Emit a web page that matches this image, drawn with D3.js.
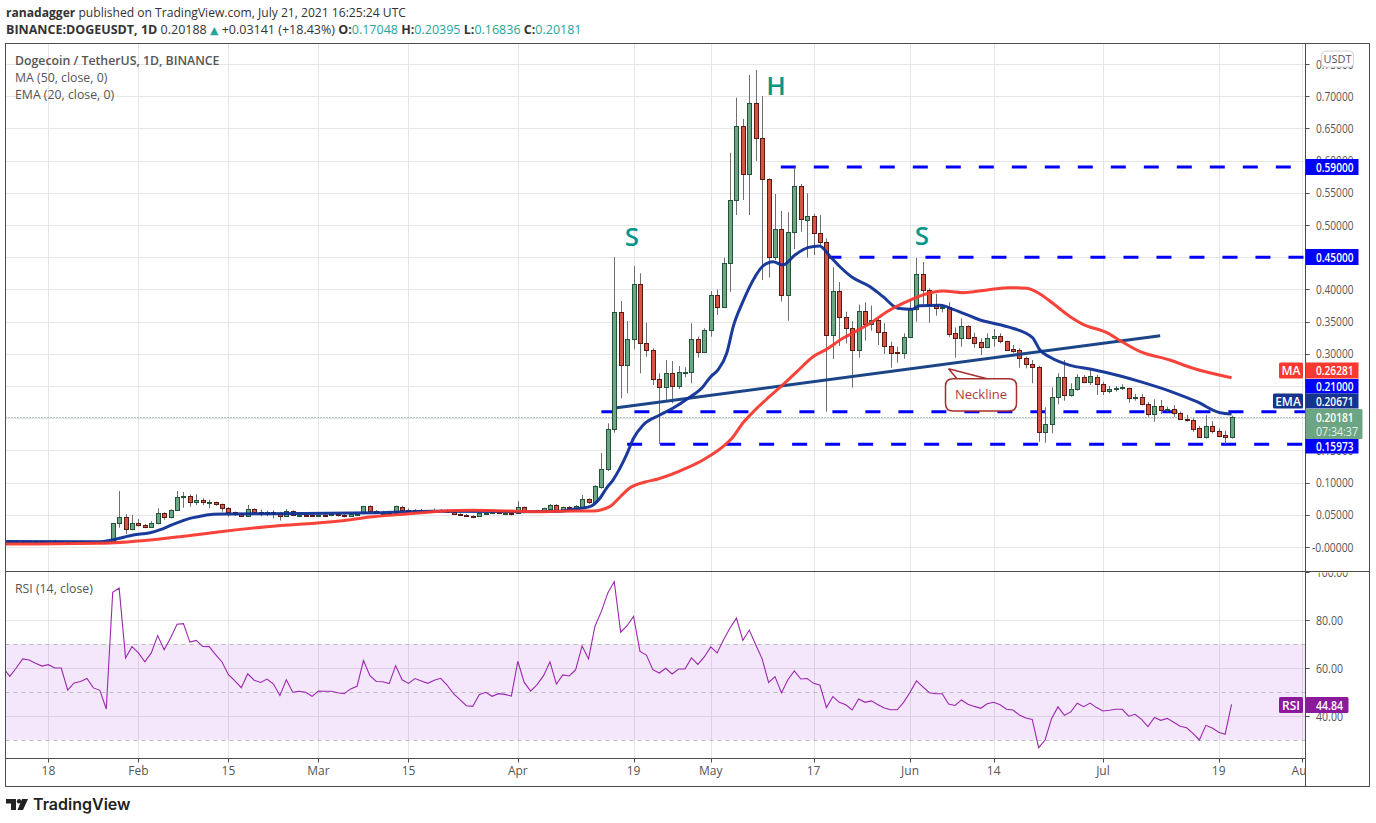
<!DOCTYPE html>
<html>
<head>
<meta charset="utf-8">
<script src="https://cdn.jsdelivr.net/npm/d3@7"></script>
<style>
  html, body { margin: 0; background: #fff; }
  text { font-family: "Open Sans", sans-serif; }
</style>
</head>
<body>
<div id="chart"></div>
<script>
// daily candles, index 0 is 12 Jan 2021, last one is 21 Jul 2021
const opens = [
  .0090,.0085,.0088,.0090,.0086,.0088,.0087,.0090,.0088,.0085,.0084,.0087,.0086,.0085,.0083,.0080,.0073,.0368,.0461,.0275,
  .0368,.0337,.0306,.0368,.0523,.0461,.0570,.0772,.0787,.0693,.0724,.0693,.0693,.0662,.0610,.0540,.0520,.0486,.0585,.0550,.0535,.0550,.0535,.0480,.0560,.0495,.0500,.0500,
  .0480,.0500,.0490,.0505,.0500,.0487,.0505,.0523,.0637,.0564,.0520,.0535,.0535,.0616,.0580,.0555,.0580,.0555,.0550,.0555,.0580,.0550,.0520,.0500,.0485,.0480,.0525,.0535,.0540,.0530,.0535,
  .0533,.0616,.0565,.0540,.0555,.0590,.0647,.0580,.0622,.0605,.0620,.0741,.0703,.0936,.1206,.1828,.3644,.2821,.3225,.4079,.3163,.3054,.2604,.2490,.2697,.2505,.2713,.2713,.3225,.3033,
  .3365,.3908,.3731,.4405,.5383,.6532,.5797,.6890,.6356,.5709,.4498,.4933,.3908,.4887,.5601,.5073,.5135,.4871,.4741,.3287,.3970,.3567,.3405,.3054,.3660,.3458,.3520,.3334,.3116,.3023,.3007,
  .3256,.3691,.4234,.3995,.3753,.3706,.3722,.3318,.3250,.3427,.3256,.3178,.3110,.3241,.3272,.3194,.3070,.3054,.2930,.2846,.2800,.1781,.1905,.2334,.2635,.2365,.2449,.2635,.2567,.2635,
  .2536,.2427,.2449,.2465,.2465,.2309,.2334,.2225,.2060,.2195,.2133,.2149,.2076,.1993,.1967,.1843,.1713,.1873,.1806,.1734,.17048
];
const closes = [
  .0085,.0088,.0090,.0086,.0088,.0087,.0090,.0088,.0085,.0084,.0087,.0086,.0085,.0083,.0080,.0073,.0368,.0461,.0275,.0368,
  .0337,.0306,.0368,.0523,.0461,.0570,.0772,.0787,.0693,.0724,.0693,.0700,.0662,.0610,.0540,.0520,.0486,.0585,.0550,.0535,.0550,.0535,.0480,.0560,.0495,.0500,.0495,.0485,
  .0500,.0490,.0505,.0490,.0487,.0505,.0510,.0637,.0564,.0530,.0535,.0520,.0637,.0580,.0555,.0580,.0555,.0562,.0580,.0575,.0550,.0520,.0500,.0480,.0480,.0525,.0535,.0540,.0530,.0535,.0530,
  .0616,.0565,.0540,.0565,.0600,.0647,.0580,.0616,.0605,.0637,.0741,.0700,.0943,.1206,.1828,.3644,.2821,.3225,.4079,.3163,.3054,.2604,.2490,.2697,.2505,.2713,.2725,.3225,.3033,.3365,
  .3908,.3731,.4405,.5383,.6532,.5797,.6890,.6356,.5709,.4498,.4933,.3908,.4887,.5601,.5088,.5135,.4871,.4741,.3287,.3970,.3567,.3405,.3054,.3660,.3458,.3520,.3334,.3116,.3017,.3007,.3256,
  .3691,.4234,.3995,.3753,.3706,.3722,.3312,.3250,.3427,.3250,.3172,.3110,.3241,.3272,.3194,.3064,.3048,.2930,.2846,.2800,.1781,.1905,.2334,.2635,.2365,.2449,.2635,.2567,.2650,.2536,
  .2427,.2449,.2465,.2480,.2309,.2334,.2227,.2060,.2195,.2133,.2149,.2076,.1993,.1977,.1837,.1713,.1873,.1806,.1728,.1703,.20181
];
const highs = [
  .0100,.0095,.0098,.0105,.0095,.0096,.0098,.0110,.0096,.0092,.0092,.0094,.0093,.0092,.0090,.0088,.0372,.0870,.0510,.0500,
  .0435,.0357,.0400,.0600,.0540,.0585,.0870,.0854,.0818,.0818,.0756,.0735,.0705,.0675,.0620,.0550,.0530,.0652,.0600,.0580,.0565,.0570,.0545,.0590,.0570,.0520,.0515,.0510,
  .0520,.0515,.0520,.0515,.0510,.0515,.0520,.0640,.0645,.0575,.0560,.0560,.0642,.0640,.0600,.0590,.0590,.0575,.0595,.0590,.0585,.0560,.0530,.0510,.0495,.0530,.0550,.0555,.0555,.0550,.0545,
  .0714,.0630,.0575,.0580,.0610,.0668,.0668,.0625,.0637,.0652,.0807,.0755,.0960,.1460,.1920,.4500,.3820,.3510,.4363,.4250,.3483,.3085,.2697,.2904,.2888,.2810,.2790,.3474,.3266,.3396,
  .3975,.4000,.4492,.6122,.6977,.6646,.7329,.7407,.7003,.5725,.5481,.5217,.5197,.5896,.5637,.5492,.5171,.5155,.4793,.4343,.4115,.3654,.3509,.3763,.3800,.3750,.3560,.3474,.3188,.3110,.3318,
  .3846,.4488,.4425,.4017,.3929,.3773,.3800,.3411,.3551,.3443,.3328,.3241,.3318,.3385,.3318,.3204,.3137,.3085,.2955,.2904,.2816,.2169,.2480,.2697,.2904,.2542,.2681,.2671,.2748,.2671,
  .2567,.2500,.2500,.2526,.2474,.2376,.2376,.2252,.2293,.2283,.2179,.2205,.2102,.2050,.1998,.1879,.2045,.1954,.1843,.1806,.20395
];
const lows = [
  .0078,.0078,.0080,.0080,.0078,.0079,.0080,.0082,.0080,.0078,.0076,.0080,.0078,.0076,.0074,.0068,.0070,.0300,.0200,.0260,
  .0315,.0290,.0295,.0350,.0424,.0445,.0560,.0610,.0626,.0652,.0652,.0600,.0641,.0548,.0470,.0480,.0470,.0480,.0535,.0480,.0480,.0445,.0410,.0470,.0480,.0470,.0480,.0470,
  .0470,.0470,.0480,.0470,.0460,.0480,.0490,.0510,.0555,.0520,.0515,.0505,.0525,.0565,.0540,.0540,.0545,.0545,.0540,.0545,.0540,.0510,.0490,.0470,.0455,.0475,.0515,.0520,.0515,.0520,.0490,
  .0525,.0555,.0530,.0530,.0545,.0580,.0570,.0570,.0595,.0600,.0610,.0668,.0690,.0905,.1180,.1775,.2310,.2387,.3070,.2697,.2955,.2516,.1600,.2272,.2231,.2453,.2635,.2542,.2940,.3017,
  .3266,.3602,.3731,.3964,.5155,.5388,.5155,.5994,.4146,.4182,.4456,.3809,.3514,.4627,.4896,.4492,.4534,.4674,.2101,.2919,.3121,.3163,.2474,.2940,.3204,.3359,.3137,.2997,.2784,.2862,.2924,
  .3500,.3498,.3773,.3483,.3592,.3644,.3266,.2940,.3110,.3225,.3095,.2981,.3101,.3110,.3163,.3048,.3017,.2784,.2775,.2542,.1635,.1620,.1765,.2216,.2272,.2334,.2427,.2542,.2516,.2360,
  .2360,.2386,.2412,.2438,.2241,.2272,.2200,.2023,.1946,.2065,.2102,.2023,.1972,.1946,.1790,.1697,.1682,.1765,.1703,.1600,.16836
];

// moving averages, as [day index] + [price]
const emaDays = [-1,14,15.9,19.2,21.8,23.4,24.9,26.5,28,29.6,31.6,33.7,45,57,66,76.2,79.3,85.6,87.6,90.2,91.8,92.8,93.8,95.9,97,98.5,101.1,103.1,105.5,107.8,109,110.1,111.5,112.5,114,115.9,117,118.7,120.2,122.1,124.1,125.9,127.6,129.1,131,133.8,135.8,138.1,140.3,141.5,144.7,146.7,150.9,155.1,159,160.2,161.8,164.9,168,172.7,175.8,180.9,184.6,188.2,190];
const emaValues = [.0085,.0082,.0109,.0186,.0222,.0269,.0331,.0393,.0445,.0477,.0508,.0512,.0520,.0530,.0555,.0553,.0548,.0555,.0585,.0626,.0761,.0916,.1040,.1429,.1688,.1894,.2050,.2154,.2309,.2490,.2645,.2748,.3012,.3421,.3809,.4197,.4352,.4430,.4379,.4534,.4648,.4674,.4508,.4352,.4188,.4042,.3887,.3706,.3691,.3747,.3753,.3691,.3525,.3421,.3256,.3059,.2946,.2821,.2764,.2655,.2567,.2402,.2256,.2085,.20671];
const maDays = [-1,14,21.8,26.5,32.7,40,51.3,56.5,61.7,66.9,72,82.4,87.6,90.7,93.3,94.9,96.4,98.8,100.8,105.3,107.8,110.9,112.3,114,115.9,117.9,120.2,122.4,124.9,127.1,129.6,131,133.8,136.4,140,143.1,145.1,148.2,152,155.5,158.2,160.2,162.2,164.9,166.9,170.6,172.7,175.8,180.4,184,190];
const maValues = [.0045,.0057,.0109,.0160,.0238,.0315,.0404,.0470,.0512,.0554,.0570,.0548,.0559,.0559,.0626,.0776,.0916,.1009,.1056,.1227,.1351,.1557,.1688,.1925,.2127,.2314,.2516,.2722,.2955,.3075,.3245,.3318,.3473,.3654,.3835,.3949,.3975,.3949,.3991,.4027,.4017,.3929,.3784,.3576,.3458,.3328,.3203,.3033,.2904,.2775,.26281];

// RSI, starts one day before the first candle
const rsiValues = [
  60,56.5,60,63.8,63.3,62,60.8,61.4,60,60,50.8,53.8,54.4,55.6,51.7,50.7,42.9,91.5,93.3,64.2,68.9,66.3,62.6,66.3,73.5,67.6,72.5,78.2,78.5,70.8,71.5,69,68.9,65.6,62.5,57.2,54.6,51.8,57.6,54.9,54,55.4,53.3,48.5,55.1,49.9,50.3,49.9,48.2,
  50.4,50.3,50.3,49.7,49.3,51.3,52.4,63.1,56.8,54.4,54.3,53.5,61,55.1,53.6,55.6,54.6,53.6,54.9,55.7,52.9,49.3,46.8,44.3,44,48.9,49.9,48.2,49.3,49,48.3,
  62.8,54,50.4,53.1,56.8,62.6,53.3,57.1,56.7,59.3,69.2,63.8,77.4,83.6,91.3,96,74.9,77.6,81.5,66.9,65.4,59.3,57.9,59.9,57.5,59.6,59.6,64.2,61.5,64.6,
  68.8,66.3,71.8,76.7,80.8,71.5,75.8,69.7,63.8,54,56.4,49.6,55.1,58.8,55.4,55.6,53.6,52.8,43.5,48.1,45.7,44.7,42.5,47.1,45.7,46.3,44.7,43.3,42.6,42.6,45.7,
  49.9,54.6,52.1,49.7,49.3,49.3,45,44.4,46.7,44.9,44,43.2,45.1,45.7,44.7,42.8,42.5,40.4,39.2,38.6,26.8,30,38.9,43.8,40.3,41.7,45.3,43.9,45.4,43.5,
  42.1,42.4,42.8,42.8,39.9,40.7,38.6,35.6,39.4,38.2,39,37.4,35.7,35.1,32.8,30,36.1,35,33.2,32.4,44.84
];

// axis ticks
const priceTicks = [0, .05, .10, .15, .20, .25, .30, .35, .40, .45, .50, .55, .60, .65, .70, .75];
const rsiTicks = [40, 60, 80, 100];
const rsiLevels = [70, 50, 30];
const timeTickDays = [6, 20, 34, 48, 62, 79, 97, 109, 125, 140, 153, 170, 188, 201];
const timeTickLabels = ['18', 'Feb', '15', 'Mar', '15', 'Apr', '19', 'May', '17', 'Jun', '14', 'Jul', '19', 'Aug'];

// drawn levels and the neckline
const levelPrices = [.59, .45, .21, .15973];
const levelStartDays = [119.9, 127, 92, 96];
const necklineDays = [94.4, 178.9];
const necklinePrices = [.2163, .3281];

const C_UP = '#6ba583', C_UP_B = '#225437', C_DN = '#d75442', C_DN_B = '#5b1a13', C_WICK = '#6e6e70';
const C_GRID = '#e6e6e6', C_FRAME = '#4d4d4d', C_TEXT = '#555';
const C_MA = '#f8392f', C_EMA = '#0f3096', C_LEVEL = '#0000ff', C_RSI = '#9c27b0', C_RSI_TAG = '#8a1a9a';

const svg = d3.select('#chart').append('svg')
  .attr('width', 1376).attr('height', 823).style('display', 'block');

const LEFT = 5.5, RIGHT = 1305.5, FAR = 1369.5, TOP = 43.5, SEP = 571.5, RSI_BOTTOM = 758.5, BOTTOM = 786.5;

const x = d3.scaleLinear().domain([6, 188]).range([48.4, 1218.7]);
const y = d3.scaleLinear().domain([0, .7]).range([547, 96.2]);
const yRsi = d3.scaleLinear().domain([60, 40]).range([668, 716]);
const px = v => Math.round(v) + .5;

const defs = svg.append('defs');
defs.append('clipPath').attr('id', 'mainClip').append('rect')
  .attr('x', LEFT).attr('y', TOP).attr('width', RIGHT - LEFT).attr('height', SEP - TOP);
defs.append('clipPath').attr('id', 'rsiClip').append('rect')
  .attr('x', LEFT).attr('y', SEP).attr('width', RIGHT - LEFT).attr('height', RSI_BOTTOM - SEP);

// grid
const grid = svg.append('g').attr('stroke', C_GRID).attr('stroke-width', 1);
timeTickDays.forEach(d => {
  if (x(d) < RIGHT) {
    grid.append('line').attr('x1', px(x(d))).attr('x2', px(x(d))).attr('y1', TOP).attr('y2', RSI_BOTTOM);
  }
});
priceTicks.forEach(t => {
  grid.append('line').attr('x1', LEFT).attr('x2', RIGHT).attr('y1', px(y(t))).attr('y2', px(y(t)));
});
rsiTicks.slice(0, 3).forEach(t => {
  grid.append('line').attr('x1', LEFT).attr('x2', RIGHT).attr('y1', px(yRsi(t))).attr('y2', px(yRsi(t)));
});

// horizontal levels sit under the candles
const main = svg.append('g').attr('clip-path', 'url(#mainClip)');
levelPrices.forEach((p, i) => {
  main.append('line')
    .attr('x1', x(levelStartDays[i])).attr('x2', RIGHT)
    .attr('y1', y(p)).attr('y2', y(p))
    .attr('stroke', C_LEVEL).attr('stroke-width', 3)
    .attr('stroke-dasharray', '15,18');
});

// last price
main.append('line').attr('x1', LEFT).attr('x2', RIGHT)
  .attr('y1', px(y(closes[closes.length - 1]))).attr('y2', px(y(closes[closes.length - 1])))
  .attr('stroke', '#5d9079').attr('stroke-dasharray', '1,2');

// candles
opens.forEach((o, i) => {
  const c = closes[i];
  const up = c >= o;
  const cx = Math.round(x(i));
  main.append('line')
    .attr('x1', cx + .5).attr('x2', cx + .5)
    .attr('y1', y(highs[i])).attr('y2', y(lows[i]))
    .attr('stroke', C_WICK);
  const top = Math.round(y(Math.max(o, c)));
  const bot = Math.round(y(Math.min(o, c)));
  main.append('rect')
    .attr('x', cx - 1.5).attr('y', top + .5)
    .attr('width', 4).attr('height', Math.max(bot - top, 1))
    .attr('fill', up ? C_UP : C_DN)
    .attr('stroke', up ? C_UP_B : C_DN_B);
});

// neckline and averages
const line = d3.line().x(d => x(d[0])).y(d => y(d[1])).curve(d3.curveMonotoneX);
main.append('path').attr('d', line(d3.zip(necklineDays, necklinePrices)))
  .attr('fill', 'none').attr('stroke', '#1c4587').attr('stroke-width', 3);
main.append('path').attr('d', line(d3.zip(emaDays, emaValues)))
  .attr('fill', 'none').attr('stroke', C_EMA).attr('stroke-width', 3).attr('stroke-linejoin', 'round').attr('opacity', .95);
main.append('path').attr('d', line(d3.zip(maDays, maValues)))
  .attr('fill', 'none').attr('stroke', C_MA).attr('stroke-width', 3).attr('stroke-linejoin', 'round').attr('opacity', .95);

// neckline callout
svg.append('path')
  .attr('d', 'M948.5 368.7 L957 378.7 H1009 Q1016.5 378.7 1016.5 386 V403.5 Q1016.5 411 1009 411 H953 Q945.5 411 945.5 403.5 V386 Q945.5 378.7 953 378.7 H957 M948.5 368.7 L987 378.7')
  .attr('fill', '#fff').attr('stroke', '#a82e2e').attr('stroke-width', 1.5);
svg.append('text').attr('x', 981).attr('y', 398.5).attr('text-anchor', 'middle')
  .attr('font-size', 13).attr('fill', '#b23b3b').text('Neckline');

// S H S
const shoulderLabels = ['S', 'H', 'S'];
const shoulderX = [632, 776, 922];
const shoulderY = [246, 95, 245];
shoulderLabels.forEach((t, i) => {
  svg.append('text').attr('x', shoulderX[i]).attr('y', shoulderY[i]).attr('text-anchor', 'middle')
    .attr('font-size', 26).attr('font-weight', 600).attr('fill', '#009688').text(t);
});

// RSI pane
const rsiPane = svg.append('g').attr('clip-path', 'url(#rsiClip)');
rsiPane.append('rect').attr('x', LEFT).attr('width', RIGHT - LEFT)
  .attr('y', yRsi(70)).attr('height', yRsi(30) - yRsi(70))
  .attr('fill', '#9b27dc').attr('fill-opacity', .11);
rsiLevels.forEach(l => {
  rsiPane.append('line').attr('x1', LEFT).attr('x2', RIGHT)
    .attr('y1', px(yRsi(l))).attr('y2', px(yRsi(l)))
    .attr('stroke', '#bdbdbd').attr('stroke-dasharray', '4,4');
});
const rsiLine = d3.line().x((d, i) => x(i - 1)).y(d => yRsi(d));
rsiPane.append('path').attr('d', rsiLine(rsiValues))
  .attr('fill', 'none').attr('stroke', C_RSI).attr('stroke-width', 1.1);

// frame
const frame = svg.append('g').attr('stroke', C_FRAME).attr('fill', 'none');
frame.append('rect').attr('x', LEFT).attr('y', TOP).attr('width', FAR - LEFT).attr('height', BOTTOM - TOP);
frame.append('line').attr('x1', LEFT).attr('x2', FAR).attr('y1', SEP).attr('y2', SEP);
frame.append('line').attr('x1', LEFT).attr('x2', RIGHT).attr('y1', RSI_BOTTOM).attr('y2', RSI_BOTTOM);
frame.append('line').attr('x1', RIGHT).attr('x2', RIGHT).attr('y1', TOP).attr('y2', BOTTOM);

// the axis digits in the reference are narrow, so squeeze them to its widths
function axisText(parent, text, xPos, yPos, width) {
  return parent.append('text').attr('x', xPos).attr('y', yPos)
    .attr('textLength', width).attr('lengthAdjust', 'spacingAndGlyphs')
    .attr('font-size', 12).text(text);
}

// price axis
priceTicks.forEach(t => {
  frame.append('line').attr('x1', RIGHT).attr('x2', RIGHT + 4).attr('y1', px(y(t))).attr('y2', px(y(t)));
  const label = (t < 0.001 ? '-' : '') + t.toFixed(5);
  axisText(svg, label, label.length > 7 ? 1312 : 1316, y(t) + 4.5, label.length > 7 ? 41.5 : 37.5).attr('fill', C_TEXT);
});

// rsi axis, the 100 label is cut off by the pane border
defs.append('clipPath').attr('id', 'rsiAxisClip').append('rect')
  .attr('x', RIGHT).attr('y', SEP + 1).attr('width', FAR - RIGHT).attr('height', BOTTOM - SEP);
rsiTicks.forEach(t => {
  frame.append('line').attr('x1', RIGHT).attr('x2', RIGHT + 4).attr('y1', px(yRsi(t))).attr('y2', px(yRsi(t)));
  const label = t.toFixed(2);
  axisText(svg, label, 1316, yRsi(t) + 4.5, label.length > 5 ? 32 : 27)
    .attr('clip-path', 'url(#rsiAxisClip)').attr('fill', C_TEXT);
});

// time axis
defs.append('clipPath').attr('id', 'timeClip').append('rect')
  .attr('x', LEFT).attr('y', RSI_BOTTOM).attr('width', RIGHT - LEFT).attr('height', BOTTOM - RSI_BOTTOM);
timeTickDays.forEach((d, i) => {
  if (x(d) < RIGHT) {
    frame.append('line').attr('x1', px(x(d))).attr('x2', px(x(d))).attr('y1', RSI_BOTTOM).attr('y2', RSI_BOTTOM + 4);
  }
  svg.append('text').attr('x', x(d)).attr('y', 775).attr('text-anchor', 'middle').attr('clip-path', 'url(#timeClip)')
    .attr('font-size', 12).attr('fill', C_TEXT).text(timeTickLabels[i]);
});

// price tags on the axis
function tag(text, top, h, fill, color) {
  svg.append('rect').attr('x', RIGHT).attr('y', top).attr('width', 53).attr('height', h).attr('fill', fill);
  axisText(svg, text, 1316, top + h / 2 + 4.5, 37.5).attr('font-weight', 600).attr('fill', color);
}
function sideTag(text, x0, top, h, fill) {
  svg.append('rect').attr('x', x0).attr('y', top).attr('width', 1303 - x0).attr('height', h).attr('rx', 1.5).attr('fill', fill);
  svg.append('text').attr('x', (x0 + 1303) / 2).attr('y', top + h / 2 + 4.5).attr('text-anchor', 'middle')
    .attr('font-size', 12).attr('font-weight', 600).attr('fill', '#fff').text(text);
}
tag('0.59000', 159, 16, C_LEVEL, '#fff');
tag('0.26281', 362.5, 16, C_MA, '#fff');
sideTag('MA', 1279, 362.5, 16, C_MA);
tag('0.21000', 379, 14.5, C_LEVEL, '#fff');
tag('0.20671', 393.5, 15, '#14348e', '#fff');
sideTag('EMA', 1273, 393.5, 15, '#14348e');
tag('0.45000', 249, 16, C_LEVEL, '#fff');
tag('0.15973', 439, 14.5, C_LEVEL, '#fff');
svg.append('rect').attr('x', RIGHT).attr('y', 409).attr('width', 57).attr('height', 30).attr('rx', 1.5).attr('fill', C_UP);
axisText(svg, '0.20181', 1316, 422, 37.5).attr('font-weight', 600).attr('fill', '#fff');
axisText(svg, '07:34:37', 1316, 435.5, 42).attr('fill', '#e4efe8');

// rsi tag
svg.append('rect').attr('x', 1279).attr('y', 697).attr('width', 24).attr('height', 16).attr('rx', 1.5).attr('fill', C_RSI_TAG);
svg.append('text').attr('x', 1291).attr('y', 709.5).attr('text-anchor', 'middle').attr('font-size', 12).attr('font-weight', 600).attr('fill', '#fff').text('RSI');
svg.append('rect').attr('x', RIGHT).attr('y', 697).attr('width', 43).attr('height', 16).attr('rx', 1.5).attr('fill', C_RSI_TAG);
axisText(svg, '44.84', 1316, 709.5, 27).attr('font-weight', 600).attr('fill', '#fff');

// USDT badge
svg.append('rect').attr('x', 1321.5).attr('y', 51).attr('width', 32).attr('height', 16).attr('rx', 4)
  .attr('fill', '#fff').attr('stroke', '#d0d0d8');
svg.append('text').attr('x', 1337.5).attr('y', 63).attr('text-anchor', 'middle').attr('font-size', 11).attr('fill', C_TEXT).text('USDT');

// legends
svg.append('text').attr('x', 15).attr('y', 64.5).attr('font-size', 12.3).attr('font-weight', 600).attr('fill', C_TEXT).text('Dogecoin / TetherUS, 1D, BINANCE');
svg.append('text').attr('x', 15).attr('y', 81.5).attr('font-size', 12.3).attr('fill', C_TEXT).text('MA (50, close, 0)');
svg.append('text').attr('x', 15).attr('y', 98.5).attr('font-size', 12.3).attr('fill', C_TEXT).text('EMA (20, close, 0)');
svg.append('text').attr('x', 15).attr('y', 593).attr('font-size', 12.3).attr('fill', C_TEXT).text('RSI (14, close)');

// header
const head1 = svg.append('text').attr('x', 6).attr('y', 17).attr('font-size', 12.1).attr('fill', '#333');
head1.append('tspan').attr('font-weight', 700).text('ranadagger');
head1.append('tspan').text(' published on TradingView.com, July 21, 2021 16:25:24 UTC');

const head2 = svg.append('text').attr('x', 6).attr('y', 34).attr('font-size', 12.5).attr('fill', '#333');
head2.append('tspan').attr('font-weight', 700).text('BINANCE:DOGEUSDT, 1D');
head2.append('tspan').text(' 0.20188 ');
head2.append('tspan').attr('fill', '#26a69a').style('font-family', '"DejaVu Sans"').attr('font-size', 11).text('\u25B2');
head2.append('tspan').text(' +0.03141 (+18.43%) ');
const ohlcNames = ['O:', 'H:', 'L:', 'C:'];
const ohlcValues = ['0.17048', '0.20395', '0.16836', '0.20181'];
ohlcNames.forEach((n, i) => {
  head2.append('tspan').attr('font-weight', 700).text(n);
  head2.append('tspan').attr('fill', '#26a69a').text(ohlcValues[i] + ' ');
});

// TradingView logo
svg.append('path').attr('d', 'M6 799 H16 V810 H11 V803.5 H6 Z M22 799 H28 L23 810 H17.5 Z').attr('fill', '#222');
svg.append('circle').attr('cx', 19).attr('cy', 801.2).attr('r', 2.2).attr('fill', '#222');
svg.append('text').attr('x', 33).attr('y', 810)
  .style('font-family', 'Inter, sans-serif').attr('font-size', 16).attr('font-weight', 600).attr('fill', '#222').text('TradingView');
</script>
</body>
</html>
